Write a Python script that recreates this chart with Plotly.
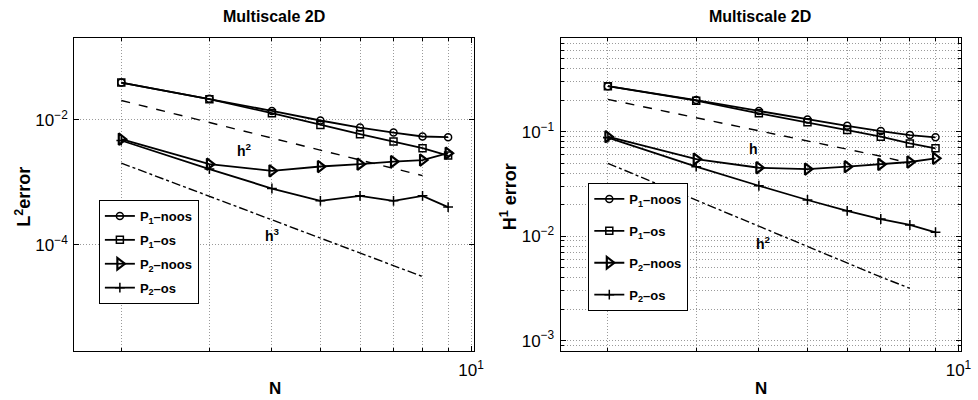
import plotly.graph_objects as go
import numpy as np

# ---------------- data ----------------
N = [2, 3, 4, 5, 6, 7, 8, 9]

# Left: L2 error
L2_P1_noos = [0.0395, 0.0217, 0.0139, 0.00976, 0.00753, 0.00626, 0.00541, 0.00528]
L2_P1_os   = [0.0395, 0.0214, 0.0128, 0.0083, 0.0059, 0.0045, 0.00352, 0.00268]
L2_P2_noos = [0.00491, 0.00195, 0.00153, 0.00179, 0.00195, 0.00215, 0.00227, 0.00293]
L2_P2_os   = [0.00467, 0.00163, 0.000796, 0.000506, 0.000608, 0.000506, 0.000608, 0.000401]

# Right: H1 error
H1_P1_noos = [0.273, 0.201, 0.158, 0.131, 0.114, 0.1014, 0.0929, 0.0883]
H1_P1_os   = [0.273, 0.198, 0.150, 0.123, 0.1037, 0.0896, 0.0773, 0.0693]
H1_P2_noos = [0.0896, 0.0547, 0.0452, 0.0439, 0.0463, 0.0487, 0.0513, 0.0556]
H1_P2_os   = [0.0877, 0.0463, 0.0304, 0.0222, 0.0175, 0.0146, 0.0128, 0.0109]

# reference slopes (values read at N = 2 .. 8)
N_ref = [2, 3, 4, 5, 6, 7, 8]
L2_h2 = [0.0204, 0.00907, 0.0051, 0.00327, 0.00227, 0.00167, 0.00128]
L2_h3 = [0.00203, 0.000601, 0.000254, 0.00013, 7.5e-05, 4.73e-05, 3.1e-05]
H1_h  = [0.204, 0.136, 0.102, 0.0816, 0.068, 0.0583, 0.0498]
H1_h2 = [0.0498, 0.0221, 0.0125, 0.00797, 0.00553, 0.00407, 0.00317]

names = ["<b>P<sub>1</sub>–noos</b>", "<b>P<sub>1</sub>–os</b>",
         "<b>P<sub>2</sub>–noos</b>", "<b>P<sub>2</sub>–os</b>"]
x_minor = [2, 3, 4, 5, 6, 7, 8, 9]
left_ticks = [1e-2, 1e-4]
left_ticktext = ["10<sup>−2</sup>", "10<sup>−4</sup>"]
right_ticks = [1e-1, 1e-2, 1e-3]
right_ticktext = ["10<sup>−1</sup>", "10<sup>−2</sup>", "10<sup>−3</sup>"]
right_minor = [m * 10.0 ** e for e in (-4, -3, -2, -1) for m in range(2, 10)]

FONT = "Liberation Sans, Arial, Helvetica, sans-serif"
W, H = 978, 400

fig = go.Figure()

markers = [
    dict(symbol="circle-open", size=7, line=dict(width=1.5, color="black")),
    dict(symbol="square-open", size=7, line=dict(width=1.5, color="black")),
    dict(symbol="triangle-right-open", size=10, line=dict(width=2.2, color="black")),
    dict(symbol="cross-thin", size=7, line=dict(width=1.5, color="black")),
]

left_series = [L2_P1_noos, L2_P1_os, L2_P2_noos, L2_P2_os]
right_series = [H1_P1_noos, H1_P1_os, H1_P2_noos, H1_P2_os]

for i, (ys, nm) in enumerate(zip(left_series, names)):
    fig.add_trace(go.Scatter(x=N, y=ys, mode="lines+markers", name=nm,
                             line=dict(color="black", width=1.8), marker=markers[i],
                             xaxis="x", yaxis="y", legend="legend",
                             legendgroup="l%d" % i))
fig.add_trace(go.Scatter(x=N_ref, y=L2_h2, mode="lines", showlegend=False,
                         line=dict(color="black", width=1.4, dash="dash"), xaxis="x", yaxis="y"))
fig.add_trace(go.Scatter(x=N_ref, y=L2_h3, mode="lines", showlegend=False,
                         line=dict(color="black", width=1.4, dash="dashdot"), xaxis="x", yaxis="y"))

for i, (ys, nm) in enumerate(zip(right_series, names)):
    fig.add_trace(go.Scatter(x=N, y=ys, mode="lines+markers", name=nm,
                             line=dict(color="black", width=1.8), marker=markers[i],
                             xaxis="x2", yaxis="y2", legend="legend2",
                             legendgroup="r%d" % i))
fig.add_trace(go.Scatter(x=N_ref, y=H1_h, mode="lines", showlegend=False,
                         line=dict(color="black", width=1.4, dash="dash"), xaxis="x2", yaxis="y2"))
fig.add_trace(go.Scatter(x=N_ref, y=H1_h2, mode="lines", showlegend=False,
                         line=dict(color="black", width=1.4, dash="dashdot"), xaxis="x2", yaxis="y2"))

GRID = "#9a9a9a"
DOT = "1px,2px"

def xaxis(dom, anchor):
    return dict(type="log", domain=dom, anchor=anchor, range=[np.log10(1.61), np.log10(10.12)],
                tickmode="array", tickvals=[10], ticktext=["10<sup>1</sup>"],
                ticks="inside", ticklen=5, tickcolor="black", ticklabelstandoff=4,
                showline=True, linecolor="black", linewidth=1, mirror="ticks",
                showgrid=True, gridcolor=GRID, griddash=DOT, gridwidth=1,
                minor=dict(tickmode="array", tickvals=x_minor, ticks="inside", ticklen=3,
                           tickcolor="black", showgrid=True, gridcolor=GRID, griddash=DOT, gridwidth=1),
                tickfont=dict(family=FONT, size=17, color="black"), zeroline=False)

ydom = [(H - 351) / H, (H - 38) / H]

layout = dict(
    width=W, height=H, margin=dict(l=0, r=0, t=0, b=0),
    paper_bgcolor="white", plot_bgcolor="white",
    font=dict(family=FONT, color="black"),
    xaxis=xaxis([75 / W, 479 / W], "y"),
    xaxis2=xaxis([567 / W, 972 / W], "y2"),
    yaxis=dict(type="log", domain=ydom, anchor="x", range=[-5.70, -0.69],
               tickmode="array", tickvals=left_ticks, ticktext=left_ticktext,
               ticks="inside", ticklen=5, tickcolor="black", ticklabelstandoff=2,
               showline=True, linecolor="black", linewidth=1, mirror="ticks",
               showgrid=True, gridcolor=GRID, griddash=DOT, gridwidth=1,
               tickfont=dict(family=FONT, size=17, color="black"), zeroline=False),
    yaxis2=dict(type="log", domain=ydom, anchor="x2", range=[-3.099, -0.103],
                tickmode="array", tickvals=right_ticks, ticktext=right_ticktext,
                ticks="inside", ticklen=5, tickcolor="black", ticklabelstandoff=2,
                showline=True, linecolor="black", linewidth=1, mirror="ticks",
                showgrid=True, gridcolor=GRID, griddash=DOT, gridwidth=1,
                minor=dict(tickmode="array", tickvals=right_minor, ticks="inside", ticklen=3,
                           tickcolor="black", showgrid=True, gridcolor=GRID, griddash=DOT, gridwidth=1),
                tickfont=dict(family=FONT, size=17, color="black"), zeroline=False),
    legend=dict(x=100 / W, y=1 - 200 / H, xanchor="left", yanchor="top",
                bgcolor="white", bordercolor="black", borderwidth=1,
                font=dict(family=FONT, size=13, color="black"),
                traceorder="grouped", tracegroupgap=4, itemwidth=30),
    legend2=dict(x=595 / W, y=1 - 183 / H, xanchor="left", yanchor="top",
                 bgcolor="white", bordercolor="black", borderwidth=1,
                 font=dict(family=FONT, size=13, color="black"),
                 traceorder="grouped", tracegroupgap=12, itemwidth=30),
    showlegend=True,
)
fig.update_layout(**layout)

ann = []
def label(text, x, y, size, angle=0, xref="paper", yref="paper"):
    ann.append(dict(text=text, x=x, y=y, xref=xref, yref=yref, showarrow=False,
                    textangle=angle, xanchor="center", yanchor="middle",
                    font=dict(family=FONT, size=size, color="black")))

label("<b>Multiscale 2D</b>", 277 / W, 1 - 17 / H, 16)
label("<b>Multiscale 2D</b>", 769 / W, 1 - 17 / H, 16)
label("<b>N</b>", 278 / W, 1 - 388 / H, 17)
label("<b>N</b>", 770 / W, 1 - 388 / H, 17)
label("<b>L<sup>2</sup>error</b>", 24 / W, 1 - 197 / H, 18, angle=-90)
label("<b>H<sup>1</sup> error</b>", 515 / W, 1 - 197 / H, 18, angle=-90)
label("<b>h<sup>2</sup></b>", np.log10(3.52), np.log10(0.0033), 14, xref="x", yref="y")
label("<b>h<sup>3</sup></b>", np.log10(4.01), np.log10(1.44e-4), 14, xref="x", yref="y")
label("<b>h</b>", np.log10(3.91), np.log10(0.0682), 14, xref="x2", yref="y2")
label("<b>h<sup>2</sup></b>", np.log10(4.09), np.log10(0.00853), 14, xref="x2", yref="y2")
fig.update_layout(annotations=ann)

fig.write_html("out.html")
